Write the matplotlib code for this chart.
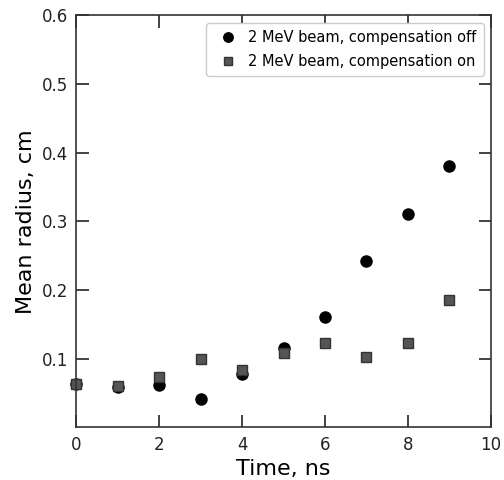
import matplotlib
matplotlib.use('Agg')
import matplotlib.pyplot as plt

time_ns = [0, 1, 2, 3, 4, 5, 6, 7, 8, 9]
radius_off = [0.063, 0.059, 0.061, 0.041, 0.077, 0.115, 0.161, 0.242, 0.311, 0.380]
radius_on = [0.063, 0.060, 0.073, 0.100, 0.084, 0.108, 0.123, 0.102, 0.123, 0.186]

fig = plt.figure(figsize=(5.04, 4.8), dpi=100)
ax = fig.add_axes([0.151, 0.11, 0.823, 0.858])

ax.plot(time_ns, radius_off, 'o', color='black', markersize=8,
        label='2 MeV beam, compensation off', clip_on=False)
ax.plot(time_ns, radius_on, 's', color='#555555', markeredgecolor='#333333',
        markersize=7.5, label='2 MeV beam, compensation on', clip_on=False)

ax.set_xlim(0, 10)
ax.set_ylim(0, 0.6)
ax.set_xticks([0, 2, 4, 6, 8, 10])
ax.set_yticks([0.1, 0.2, 0.3, 0.4, 0.5, 0.6])
ax.tick_params(direction='in', length=9, width=1.2, top=True, right=True,
               labelsize=12, pad=6, colors='#222222')
for spine in ax.spines.values():
    spine.set_linewidth(1.2)
    spine.set_color('#333333')

ax.set_xlabel('Time, ns', fontsize=16)
ax.set_ylabel('Mean radius, cm', fontsize=16)
ax.legend(loc='upper right', fontsize=10.5, handletextpad=0.4, borderpad=0.5,
          labelspacing=0.6, markerscale=0.85, framealpha=1, edgecolor='#cccccc')

fig.savefig('out.png', dpi=100)
